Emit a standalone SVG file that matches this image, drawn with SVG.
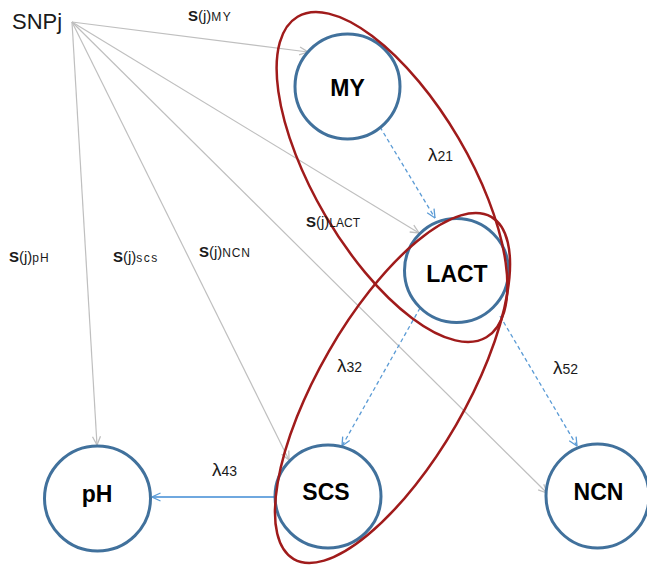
<svg xmlns="http://www.w3.org/2000/svg" width="647" height="565" viewBox="0 0 647 565">
<style>
.node{fill:#fff;stroke:#41719c;stroke-width:3}
.nl{font-family:"Liberation Sans",Arial,sans-serif;font-weight:bold;font-size:23px;fill:#000;text-anchor:middle}
.grp{fill:none;stroke:#a01b1b;stroke-width:2.5}
.g{stroke:#bfbfbf;stroke-width:1.2;fill:none}
.bd{stroke:#5b9bd5;stroke-width:1.3;stroke-dasharray:4 3;fill:none}
.bs{stroke:#3f8bd4;stroke-width:1.5;fill:none}
.lb{font-family:"Liberation Sans",Arial,sans-serif;fill:#1a1a1a}
.s{font-weight:bold}
</style>
<defs>
<marker id="ag" viewBox="0 0 10 10" refX="9.5" refY="5" markerWidth="10" markerHeight="10" markerUnits="userSpaceOnUse" orient="auto"><path d="M1,1 L9.5,5 L1,9" fill="none" stroke="#bfbfbf" stroke-width="1.3"/></marker>
<marker id="ab" viewBox="0 0 10 10" refX="9.5" refY="5" markerWidth="10" markerHeight="10" markerUnits="userSpaceOnUse" orient="auto"><path d="M1,1 L9.5,5 L1,9" fill="none" stroke="#5b9bd5" stroke-width="1.3"/></marker>
</defs>
<g id="connectors">
<line class="g" x1="72" y1="22" x2="308" y2="52" marker-end="url(#ag)"/>
<line class="g" x1="72" y1="22" x2="419" y2="233" marker-end="url(#ag)"/>
<line class="g" x1="72" y1="22" x2="97" y2="445" marker-end="url(#ag)"/>
<line class="g" x1="72" y1="22" x2="289" y2="460" marker-end="url(#ag)"/>
<line class="g" x1="72" y1="22" x2="547" y2="493" marker-end="url(#ag)"/>
<line class="bd" x1="380" y1="127" x2="435" y2="218" marker-end="url(#ab)"/>
<line class="bd" x1="420" y1="308" x2="342" y2="446" marker-end="url(#ab)"/>
<line class="bd" x1="500" y1="316" x2="577" y2="446" marker-end="url(#ab)"/>
<line class="bs" x1="275" y1="497" x2="152" y2="497" marker-end="url(#ab)"/>
</g>
<g id="node-MY"><ellipse class="node" cx="347.5" cy="86.5" rx="52.5" ry="52.5"/><text class="nl" x="347.5" y="96">MY</text></g>
<g id="node-LACT"><ellipse class="node" cx="456.5" cy="270.5" rx="52" ry="52"/><text class="nl" x="457" y="282">LACT</text></g>
<g id="node-pH"><ellipse class="node" cx="97.5" cy="498.5" rx="53" ry="52.5"/><text class="nl" x="97" y="502">pH</text></g>
<g id="node-SCS"><ellipse class="node" cx="328" cy="496.5" rx="53" ry="51.5"/><text class="nl" x="326" y="500">SCS</text></g>
<g id="node-NCN"><ellipse class="node" cx="597.5" cy="496" rx="51.5" ry="52"/><text class="nl" x="598.5" y="500">NCN</text></g>
<g id="group-MY-LACT"><ellipse class="grp" cx="392" cy="177" rx="186" ry="77" transform="rotate(59.5 392 177)"/></g>
<g id="group-LACT-SCS"><ellipse class="grp" cx="392.5" cy="388" rx="197.6" ry="73.5" transform="rotate(-60 392.5 388)"/></g>
<g id="labels">
<text class="lb" x="12" y="29" font-size="22">SNPj</text>
<text class="lb" x="188" y="21" font-size="15"><tspan class="s">S</tspan>(j)<tspan font-size="12" letter-spacing="1.5">MY</tspan></text>
<text class="lb" x="306" y="227" font-size="15"><tspan class="s">S</tspan>(j)<tspan font-size="12">LACT</tspan></text>
<text class="lb" x="9" y="262" font-size="15"><tspan class="s">S</tspan>(j)<tspan font-size="12" letter-spacing="1">pH</tspan></text>
<text class="lb" x="113" y="262" font-size="15"><tspan class="s">S</tspan>(j)<tspan font-size="12" letter-spacing="1.5">scs</tspan></text>
<text class="lb" x="199" y="257" font-size="15"><tspan class="s">S</tspan>(j)<tspan font-size="12" letter-spacing="0.8">NCN</tspan></text>
<text class="lb" x="428" y="161" font-size="19">λ<tspan font-size="14">21</tspan></text>
<text class="lb" x="337" y="372" font-size="19">λ<tspan font-size="14">32</tspan></text>
<text class="lb" x="553" y="374" font-size="19">λ<tspan font-size="14">52</tspan></text>
<text class="lb" x="212" y="476" font-size="19">λ<tspan font-size="14">43</tspan></text>
</g>
</svg>
